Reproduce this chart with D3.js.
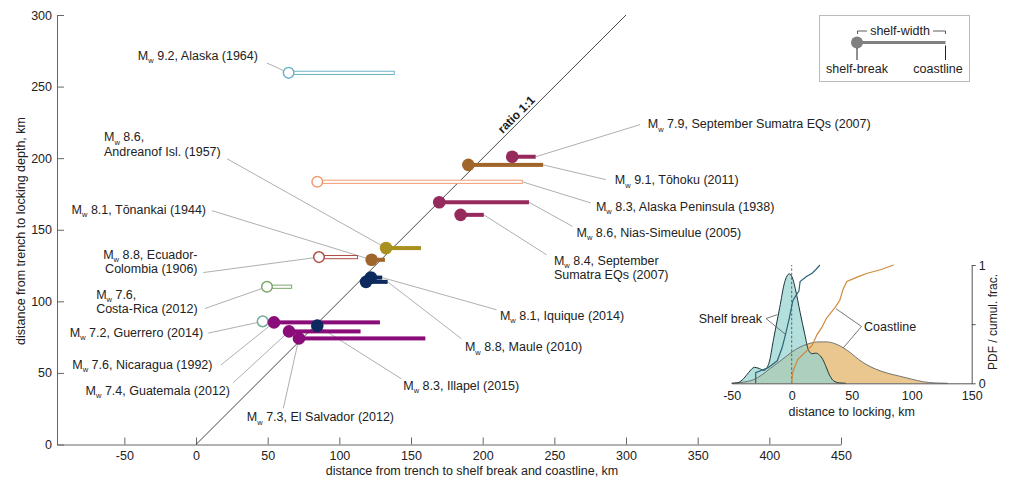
<!DOCTYPE html>
<html>
<head>
<meta charset="utf-8">
<script src="https://cdn.jsdelivr.net/npm/d3@7"></script>
<style>
  body { margin: 0; background: #fff; }
  svg { display: block; }
  text { font-family: "Liberation Sans", Arial, Helvetica, sans-serif; fill: #222; }
</style>
</head>
<body>
<svg id="chart" width="1010" height="482"></svg>
<script>
// ---- Earthquake data (km) ----
const quakeNames = [
  "Alaska (1964)", "Alaska Peninsula (1938)", "Andreanof Isl. (1957)", "Tōnankai (1944)",
  "Tōhoku (2011)", "September Sumatra EQs (2007) 7.9", "Nias-Simeulue (2005)",
  "September Sumatra EQs (2007) 8.4", "Ecuador-Colombia (1906)", "Costa-Rica (2012)",
  "Guerrero (2014)", "Nicaragua (1992)", "Guatemala (2012)", "El Salvador (2012)",
  "Illapel (2015)", "Iquique (2014)", "Maule (2010)"
];
const magnitudes = ["9.2", "8.3", "8.6", "8.1", "9.1", "7.9", "8.6", "8.4", "8.8", "7.6",
                    "7.2", "7.6", "7.4", "7.3", "8.3", "8.1", "8.8"];
const shelfBreakKm   = [64.6, 84.6, 132.6, 122.5, 190.0, 220.6, 169.7, 184.6, 85.8, 49.5,
                        46.5, 54.4, 64.9, 71.8, 84.6, 122.0, 118.6];
const coastlineKm    = [138.3, 227.6, 157.0, 131.8, 242.2, 237.0, 232.3, 200.8, 112.7, 66.7,
                        53.0, 128.3, 114.8, 160.0, 88.0, 129.9, 133.7];
const lockingDepthKm = [259.6, 183.5, 137.2, 129.0, 195.3, 201.0, 169.2, 160.4, 130.9, 110.2,
                        86.0, 85.3, 79.0, 74.1, 83.0, 116.6, 113.6];
const regionGroup = ["alaska", "alaskaPen", "aleutian", "nankai", "nankai", "sumatra", "sumatra",
                     "sumatra", "ecuador", "costaRica", "guerrero", "centralAm", "centralAm",
                     "centralAm", "chile", "chile", "chile"];
const hollowMarker = [true, true, false, false, false, false, false, false, true, true,
                      true, false, false, false, false, false, false];

// Label text lines (first line is preceded by "Mw")
const labelLines = [
  ["9.2, Alaska (1964)"], ["8.3, Alaska Peninsula (1938)"], ["8.6,", "Andreanof Isl. (1957)"],
  ["8.1, Tōnankai (1944)"], ["9.1, Tōhoku (2011)"], ["7.9, September Sumatra EQs (2007)"],
  ["8.6, Nias-Simeulue (2005)"], ["8.4, September", "Sumatra EQs (2007)"],
  ["8.8, Ecuador-", "Colombia (1906)"], ["7.6,", "Costa-Rica (2012)"],
  ["7.2, Guerrero (2014)"], ["7.6, Nicaragua (1992)"], ["7.4, Guatemala (2012)"],
  ["7.3, El Salvador (2012)"], ["8.3, Illapel (2015)"], ["8.1, Iquique (2014)"], ["8.8, Maule (2010)"]
];

// Inset: distributions of distance to locking (km)
const shelfPdf = [[-50,0],[-45,0.005],[-40,0.04],[-36,0.09],[-31,0.135],[-27,0.125],[-23,0.11],
  [-19,0.17],[-15,0.38],[-10,0.64],[-6,0.85],[-2,0.925],[1,0.88],[3,0.8],[7,0.6],[11,0.41],
  [14,0.28],[17,0.25],[20,0.255],[23,0.24],[26,0.2],[29,0.13],[32,0.06],[35,0.02],[40,0.003],[45,0]];
const coastPdf = [[-50,0],[-40,0.01],[-32,0.03],[-25,0.07],[-18,0.125],[-10,0.185],[-3,0.24],
  [4,0.29],[10,0.32],[16,0.34],[22,0.35],[29,0.35],[36,0.335],[43,0.3],[50,0.25],[56,0.2],
  [62,0.16],[70,0.12],[80,0.085],[90,0.06],[100,0.035],[110,0.012],[120,0.003],[130,0]];
const shelfCdf = [[-30,0],[-30,0.09],[-20,0.13],[-12,0.19],[-8,0.3],[-5,0.42],[-2,0.55],[1,0.7],
  [4,0.75],[6,0.78],[7,0.86],[12,0.9],[17,0.93],[20,0.96],[23.5,1]];
const coastCdf = [[0,0],[1,0.1],[5,0.2],[12,0.27],[17,0.32],[21,0.41],[25,0.47],[29,0.55],
  [36,0.64],[40,0.7],[43,0.8],[46,0.86],[55,0.9],[63,0.93],[74,0.96],[85,1]];

const xTicks = [-50, 0, 50, 100, 150, 200, 250, 300, 350, 400, 450];
const yTicks = [0, 50, 100, 150, 200, 250, 300];
const insetXTicks = [-50, 0, 50, 100, 150];
const insetYTicks = [0, 0.5, 1];

// ---- Styles ----
const groupColor = {
  alaska: "#6cb3c4", alaskaPen: "#f39b72", aleutian: "#a8911f", nankai: "#a0652b",
  sumatra: "#962a5c", ecuador: "#b24f45", costaRica: "#7aa86a", guerrero: "#72ae98",
  centralAm: "#8a0c78", chile: "#0c2a5e"
};
const LABEL_SIZE = 12.5;

// Label placement (data units) and leader lines
const labelLayout = [
  {anchor: "end",    at: [43.2, 268.9],  from: [49.5, 266.4],  to: "break"},
  {anchor: "start",  at: [279, 163.3],   from: [275.5, 168.7], to: "coast"},
  {anchor: "start",  at: [-64.2, 211.7], from: [21.6, 199.6],  to: "break"},
  {anchor: "end",    at: [7, 161.2],     from: [11.2, 163.3],  to: "break"},
  {anchor: "start",  at: [292.2, 181.8], from: [286, 185],     to: "coast"},
  {anchor: "start",  at: [315.2, 221],   from: [309.7, 223.4], to: "coast"},
  {anchor: "start",  at: [265.5, 145.1], from: [262.7, 152.3], to: "coast"},
  {anchor: "start",  at: [249.7, 125.7], from: [244.6, 132.5], to: "coast"},
  {anchor: "end",    at: [1.05, 129.7],  from: [5.1, 120.1],   to: "break"},
  {anchor: "start",  at: [-69.7, 101.7], from: [6.3, 95],      to: "break"},
  {anchor: "end",    at: [4.9, 75.2],    from: [8.6, 77.8],    to: "break"},
  {anchor: "end",    at: [11.5, 52.8],   from: [17.4, 55.6],   to: "break"},
  {anchor: "end",    at: [23.7, 34.6],   from: [26, 43.2],     to: "break"},
  {anchor: "middle", at: [86.8, 16.1],   from: [60.9, 25.3],   to: "break"},
  {anchor: "start",  at: [144.6, 38.1],  from: [143.4, 45.8],  to: "break"},
  {anchor: "start",  at: [212, 87.1],    from: [209.7, 94.1],  to: "coast"},
  {anchor: "start",  at: [187.6, 65],    from: [185.3, 73.8],  to: "coast"}
];

const svg = d3.select("#chart");
const fmt = d => String(d);

// ---- Main scales (equal aspect) ----
const x = d3.scaleLinear().domain([-97, 450]).range([57, 841]);
const y = d3.scaleLinear().domain([0, 300]).range([444.5, 15]);

// Axes
const gx = svg.append("g").attr("transform", `translate(0,${y(0)})`)
  .call(d3.axisBottom(x).tickValues(xTicks).tickFormat(fmt).tickSizeInner(-7).tickSizeOuter(0).tickPadding(7));
const gy = svg.append("g").attr("transform", `translate(${x(-97)},0)`)
  .call(d3.axisLeft(y).tickValues(yTicks).tickFormat(fmt).tickSizeInner(-7).tickSizeOuter(0).tickPadding(5));
[gx, gy].forEach(g => {
  g.selectAll("path, line").attr("stroke", "#666");
  g.selectAll("text").attr("font-size", 12.5).attr("fill", "#333")
    .style("font-family", '"Liberation Sans", Arial, sans-serif');
});

svg.append("text").attr("x", 472).attr("y", 475).attr("text-anchor", "middle")
  .attr("font-size", 12.5).attr("fill", "#333")
  .text("distance from trench to shelf break and coastline, km");
svg.append("text").attr("transform", `translate(25,231) rotate(-90)`).attr("text-anchor", "middle")
  .attr("font-size", 12.5).attr("fill", "#333")
  .text("distance from trench to locking depth, km");

// Leader lines
const leaders = svg.append("g");
labelLayout.forEach((L, i) => {
  const tx = L.to === "break" ? shelfBreakKm[i] : coastlineKm[i];
  leaders.append("line")
    .attr("x1", x(L.from[0])).attr("y1", y(L.from[1]))
    .attr("x2", x(tx)).attr("y2", y(lockingDepthKm[i]))
    .attr("stroke", "#9a9a9a").attr("stroke-width", 0.8);
});

// 1:1 line
svg.append("line")
  .attr("x1", x(0)).attr("y1", y(0)).attr("x2", x(300)).attr("y2", y(300))
  .attr("stroke", "#333").attr("stroke-width", 0.9);
svg.append("text")
  .attr("transform", `translate(${x(227)},${y(227)}) rotate(-45)`)
  .attr("text-anchor", "middle").attr("dy", -3)
  .attr("font-size", 12).attr("font-weight", "bold").attr("fill", "#222")
  .text("ratio 1:1");

// Marks: shelf-break circle + bar to coastline
const marks = svg.append("g");
quakeNames.forEach((_, i) => {
  const c = groupColor[regionGroup[i]];
  const xb = x(shelfBreakKm[i]), xc = x(coastlineKm[i]), yy = y(lockingDepthKm[i]);
  if (hollowMarker[i]) {
    marks.append("rect").attr("x", xb).attr("y", yy - 1.6)
      .attr("width", Math.max(0, xc - xb)).attr("height", 3.2)
      .attr("fill", "#fff").attr("stroke", c).attr("stroke-width", 1);
    marks.append("circle").attr("cx", xb).attr("cy", yy).attr("r", 5.3)
      .attr("fill", "#fff").attr("stroke", c).attr("stroke-width", 1.5);
  } else {
    marks.append("rect").attr("x", xb).attr("y", yy - 2)
      .attr("width", Math.max(0, xc - xb)).attr("height", 4).attr("fill", c);
    marks.append("circle").attr("cx", xb).attr("cy", yy).attr("r", 6.3).attr("fill", c);
  }
});

// Labels with subscript w
const labels = svg.append("g");
labelLayout.forEach((L, i) => {
  const px = x(L.at[0]), py = y(L.at[1]);
  labelLines[i].forEach((line, j) => {
    const t = labels.append("text").attr("x", px).attr("y", py + j * 14.5)
      .attr("text-anchor", L.anchor).attr("font-size", LABEL_SIZE).attr("fill", "#222");
    if (j === 0) {
      t.append("tspan").text("M");
      t.append("tspan").attr("font-size", 7.5).attr("dy", 3.5).text("w");
      t.append("tspan").attr("dy", -3.5).text(" " + line);
    } else {
      t.text(line);
    }
  });
});

// ---- Legend ----
const lg = svg.append("g");
lg.append("rect").attr("x", 819.5).attr("y", 15.5).attr("width", 150).attr("height", 66)
  .attr("fill", "#fff").attr("stroke", "#bbb");
lg.append("line").attr("x1", 857).attr("x2", 945.5).attr("y1", 42.5).attr("y2", 42.5)
  .attr("stroke", "#808080").attr("stroke-width", 3);
lg.append("circle").attr("cx", 857).attr("cy", 42.5).attr("r", 6).attr("fill", "#808080");
lg.append("line").attr("x1", 857).attr("x2", 857).attr("y1", 48).attr("y2", 60).attr("stroke", "#222");
lg.append("line").attr("x1", 945.5).attr("x2", 945.5).attr("y1", 45.5).attr("y2", 60).attr("stroke", "#222");
lg.append("path").attr("d", "M857.5,34V31H867 M933,31H945.5V34")
  .attr("fill", "none").attr("stroke", "#333").attr("stroke-width", 0.8);
lg.append("text").attr("x", 900).attr("y", 35).attr("text-anchor", "middle").attr("font-size", 12.5).text("shelf-width");
lg.append("text").attr("x", 857).attr("y", 73).attr("text-anchor", "middle").attr("font-size", 12.5).text("shelf-break");
lg.append("text").attr("x", 938).attr("y", 73).attr("text-anchor", "middle").attr("font-size", 12.5).text("coastline");

// ---- Inset ----
const xi = d3.scaleLinear().domain([-50, 150]).range([731.7, 971.7]);
const yi = d3.scaleLinear().domain([0, 1]).range([383.3, 265]);
const inset = svg.append("g");

const area = d3.area().x(d => xi(d[0])).y0(yi(0)).y1(d => yi(d[1])).curve(d3.curveMonotoneX);
const lineC = d3.line().x(d => xi(d[0])).y(d => yi(d[1])).curve(d3.curveMonotoneX);
const lineL = d3.line().x(d => xi(d[0])).y(d => yi(d[1]));

inset.append("path").attr("d", area(coastPdf)).attr("fill", "#e9c78f");
inset.append("path").attr("d", area(shelfPdf)).attr("fill", "#95d3cf").attr("fill-opacity", 0.72);
inset.append("path").attr("d", lineC(coastPdf)).attr("fill", "none").attr("stroke", "#666").attr("stroke-width", 0.9);
inset.append("path").attr("d", lineC(shelfPdf)).attr("fill", "none").attr("stroke", "#1f3438").attr("stroke-width", 1);

inset.append("line").attr("x1", xi(0)).attr("x2", xi(0)).attr("y1", yi(0)).attr("y2", yi(1))
  .attr("stroke", "#444").attr("stroke-width", 0.8).attr("stroke-dasharray", "2.5,2");

inset.append("path").attr("d", lineL(shelfCdf)).attr("fill", "none").attr("stroke", "#2c6678").attr("stroke-width", 1.2);
inset.append("path").attr("d", lineL(coastCdf)).attr("fill", "none").attr("stroke", "#cd8a3c").attr("stroke-width", 1.2);

const gxi = inset.append("g").attr("transform", `translate(0,${yi(0)})`)
  .call(d3.axisBottom(xi).tickValues(insetXTicks).tickFormat(fmt).tickSize(0).tickPadding(8));
const gyi = inset.append("g").attr("transform", `translate(${xi(150)},0)`)
  .call(d3.axisRight(yi).tickValues(insetYTicks).tickFormat(d => d === 0.5 ? "" : fmt(d)).tickSizeInner(4).tickSizeOuter(0).tickPadding(3));
[gxi, gyi].forEach(g => {
  g.selectAll("path, line").attr("stroke", "#555");
  g.selectAll("text").attr("font-size", 12.5).attr("fill", "#222")
    .style("font-family", '"Liberation Sans", Arial, sans-serif');
});
inset.append("text").attr("x", xi(50)).attr("y", 416).attr("text-anchor", "middle")
  .attr("font-size", 12.5).text("distance to locking, km");
inset.append("text").attr("transform", `translate(997,322) rotate(-90)`).attr("text-anchor", "middle")
  .attr("font-size", 12).text("PDF / cumul. frac.");

// Inset annotations
inset.append("text").attr("x", 762).attr("y", 322.5).attr("text-anchor", "end").attr("font-size", 12.5).text("Shelf break");
inset.append("path").attr("d", `M766,318.5L${xi(-12)},${yi(0.58)} M766,318.5L${xi(-4.75)},${yi(0.41)}`)
  .attr("fill", "none").attr("stroke", "#555").attr("stroke-width", 0.8);
inset.append("text").attr("x", 864).attr("y", 331).attr("text-anchor", "start").attr("font-size", 12.5).text("Coastline");
inset.append("path").attr("d", `M861.5,326.5L${xi(37)},${yi(0.63)} M861.5,326.5L${xi(43)},${yi(0.3)}`)
  .attr("fill", "none").attr("stroke", "#555").attr("stroke-width", 0.8);
</script>
</body>
</html>
